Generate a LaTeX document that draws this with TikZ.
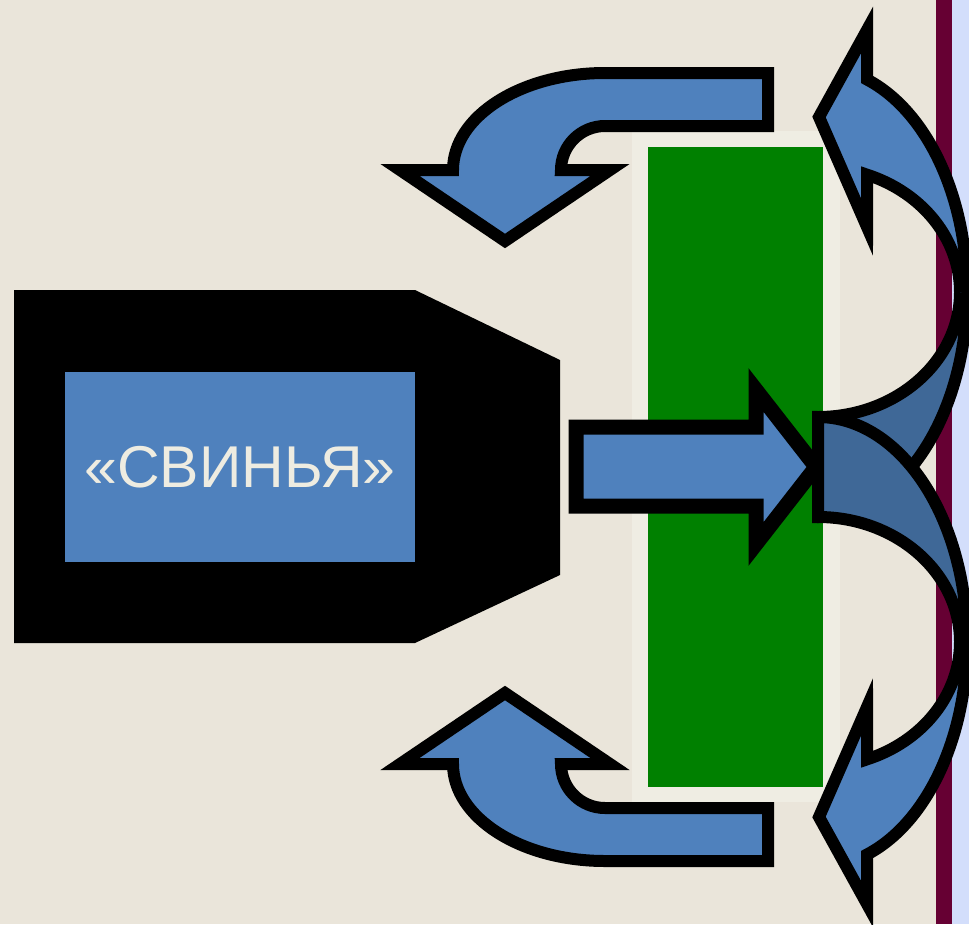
\documentclass[tikz,border=0pt]{standalone}
\usepackage{fontspec}
\setmainfont{Liberation Sans}
\definecolor{bg}{HTML}{EAE5DA}
\definecolor{lightbg}{HTML}{EFEDE3}
\definecolor{grn}{HTML}{008000}
\definecolor{maroonc}{HTML}{660033}
\definecolor{lblue}{HTML}{D3DEFB}
\definecolor{accent}{HTML}{4F81BD}
\definecolor{accdark}{HTML}{3F6897}
\definecolor{txtc}{HTML}{EEECE1}
\tikzset{
  blockarrow/.style={draw=black, fill=accent, line width=12pt, line join=miter},
  fatarrow/.style={draw=black, fill=accent, line width=15pt, line join=miter},
  outl/.style={draw=black, line width=12pt, line join=miter},
  EI/.style={x radius=142, y radius=125},
  EO/.style={x radius=149, y radius=225},
}
\begin{document}
\begin{tikzpicture}[x=1pt, y=-1pt]
\useasboundingbox (0,0) rectangle (969,924);
% background
\fill[bg] (0,0) rectangle (969,924);
\fill[maroonc] (936,0) rectangle (952,924);
\fill[lblue] (952,0) rectangle (969,924);
\fill[lightbg] (632,131) rectangle (840,802);
\fill[grn] (648,147) rectangle (823,787);
% black pentagon with label box
\fill[black] (14,290) -- (415,290) -- (560,360) -- (560,575) -- (415,643) -- (14,643) -- cycle;
\node[fill=accent, minimum width=350pt, minimum height=190pt, inner sep=0pt,
      text=txtc, font=\fontsize{59}{62}\selectfont] (pig) at (240,467) {«СВИНЬЯ»};
% middle straight arrow
\draw[fatarrow] (576,427) -- (756,427) -- (756,390) -- (816,467) -- (756,544) -- (756,506) -- (576,506) -- cycle;
% top U-turn arrow
\draw[blockarrow] (768,73) -- (605,73) arc[start angle=270, end angle=180, x radius=152, y radius=97]
  -- (400,170) -- (505,241) -- (610,170) -- (561,170)
  arc[start angle=180, end angle=270, radius=44] -- (768,126) -- cycle;
% bottom U-turn arrow
\draw[blockarrow] (768,861) -- (605,861) arc[start angle=90, end angle=180, x radius=152, y radius=97]
  -- (400,764) -- (505,693) -- (610,764) -- (561,764)
  arc[start angle=180, end angle=90, radius=44] -- (768,808) -- cycle;
% top curved arrow: back face
\fill[accdark] (818,417) arc[start angle=90, end angle=0, EI] -- (967,292)
  arc[start angle=0, end angle=90, EO] -- cycle;
\draw[outl] (967,292) arc[start angle=0, end angle=90, EO] -- (818,417)
  arc[start angle=90, end angle=0, EI];
% top curved arrow: front face
\fill[accent] (960,292) arc[start angle=0, end angle=-69.8, EI] -- (867,227) -- (819,117)
  -- (867,30) -- (867,79.5) arc[start angle=-70.8, end angle=0, EO] -- cycle;
\draw[outl] (960,292) arc[start angle=0, end angle=-69.8, EI] -- (867,227) -- (819,117)
  -- (867,30) -- (867,79.5) arc[start angle=-70.8, end angle=0, EO];
% bottom curved arrow: back face
\fill[accdark] (818,517) arc[start angle=-90, end angle=0, EI] -- (967,642)
  arc[start angle=0, end angle=-90, EO] -- cycle;
\draw[outl] (967,642) arc[start angle=0, end angle=-90, EO] -- (818,517)
  arc[start angle=-90, end angle=0, EI];
% bottom curved arrow: front face
\fill[accent] (960,642) arc[start angle=0, end angle=69.8, EI] -- (867,707) -- (819,817)
  -- (867,904) -- (867,854.5) arc[start angle=70.8, end angle=0, EO] -- cycle;
\draw[outl] (960,642) arc[start angle=0, end angle=69.8, EI] -- (867,707) -- (819,817)
  -- (867,904) -- (867,854.5) arc[start angle=70.8, end angle=0, EO];
\end{tikzpicture}
\end{document}
